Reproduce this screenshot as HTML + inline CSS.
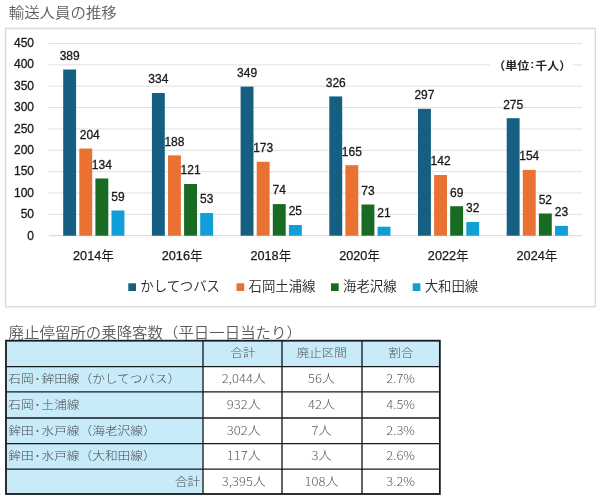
<!DOCTYPE html>
<html lang="ja"><head><meta charset="utf-8"><title>輸送人員の推移</title>
<style>html,body{margin:0;padding:0;background:#fff;}body{width:600px;height:499px;overflow:hidden;}svg{display:block;filter:blur(0.4px);}.ax{font-family:"Liberation Sans", "Noto Sans CJK JP", sans-serif;font-size:12px;fill:#1a1a1a;stroke:#1a1a1a;stroke-width:0.3px;}.xl{font-family:"Liberation Sans", "Noto Sans CJK JP", sans-serif;font-size:12.7px;fill:#1a1a1a;stroke:#1a1a1a;stroke-width:0.25px;}.nen{stroke:none;}.lg{font-family:"Liberation Sans", "Noto Sans CJK JP", sans-serif;font-size:13.4px;fill:#2a2a2a;font-weight:350;}.tt{font-family:"Liberation Sans", "Noto Sans CJK JP", sans-serif;font-size:15.45px;fill:#5c5c5c;font-weight:350;}.un{font-family:"Liberation Sans", "Noto Sans CJK JP", sans-serif;font-size:12px;font-weight:700;fill:#262626;}.tb{font-family:"Noto Sans CJK JP", "Liberation Sans", sans-serif;font-size:13px;fill:#565656;font-weight:300;}.tl{font-size:12.7px;fill:#4a4a4a;}.th{font-size:12.5px;}</style></head><body>
<svg width="600" height="499" viewBox="0 0 600 499">
<rect x="0" y="0" width="600" height="499" fill="#ffffff"/>
<text class="tt" transform="translate(8.7,17.8) scale(1,0.93)">輸送人員の推移</text>
<rect x="5.5" y="28.4" width="589.9" height="278.3" fill="#fff" stroke="#dbdbdb" stroke-width="1.4"/>
<line x1="48.75" y1="235.70" x2="582.00" y2="235.70" stroke="#d6d6d6" stroke-width="1"/>
<text class="ax" x="34" y="239.80" text-anchor="end">0</text>
<line x1="48.75" y1="214.34" x2="582.00" y2="214.34" stroke="#e0e0e0" stroke-width="1"/>
<text class="ax" x="34" y="218.36" text-anchor="end">50</text>
<line x1="48.75" y1="192.98" x2="582.00" y2="192.98" stroke="#e0e0e0" stroke-width="1"/>
<text class="ax" x="34" y="196.92" text-anchor="end">100</text>
<line x1="48.75" y1="171.62" x2="582.00" y2="171.62" stroke="#e0e0e0" stroke-width="1"/>
<text class="ax" x="34" y="175.48" text-anchor="end">150</text>
<line x1="48.75" y1="150.26" x2="582.00" y2="150.26" stroke="#e0e0e0" stroke-width="1"/>
<text class="ax" x="34" y="154.04" text-anchor="end">200</text>
<line x1="48.75" y1="128.90" x2="582.00" y2="128.90" stroke="#e0e0e0" stroke-width="1"/>
<text class="ax" x="34" y="132.60" text-anchor="end">250</text>
<line x1="48.75" y1="107.54" x2="582.00" y2="107.54" stroke="#e0e0e0" stroke-width="1"/>
<text class="ax" x="34" y="111.16" text-anchor="end">300</text>
<line x1="48.75" y1="86.18" x2="582.00" y2="86.18" stroke="#e0e0e0" stroke-width="1"/>
<text class="ax" x="34" y="89.72" text-anchor="end">350</text>
<line x1="48.75" y1="64.82" x2="582.00" y2="64.82" stroke="#e0e0e0" stroke-width="1"/>
<text class="ax" x="34" y="68.28" text-anchor="end">400</text>
<line x1="48.75" y1="43.46" x2="582.00" y2="43.46" stroke="#e0e0e0" stroke-width="1"/>
<text class="ax" x="34" y="46.84" text-anchor="end">450</text>
<rect x="490" y="56" width="83" height="17" fill="#fff"/>
<text class="un" transform="translate(532.2,69.6) scale(1,0.94)" text-anchor="middle">（単位<tspan dx="1" dy="-1.2">:</tspan><tspan dx="1" dy="1.2">千人）</tspan></text>
<rect x="63.20" y="69.52" width="12.90" height="166.18" fill="#156082"/>
<text class="ax" x="69.65" y="59.92" text-anchor="middle">389</text>
<rect x="79.30" y="148.55" width="12.90" height="87.15" fill="#E97132"/>
<text class="ax" x="89.75" y="138.95" text-anchor="middle">204</text>
<rect x="95.40" y="178.46" width="12.90" height="57.24" fill="#196B24"/>
<text class="ax" x="101.85" y="168.86" text-anchor="middle">134</text>
<rect x="111.50" y="210.50" width="12.90" height="25.20" fill="#0F9ED5"/>
<text class="ax" x="117.95" y="200.90" text-anchor="middle">59</text>
<text class="xl" x="93.50" y="260.2" text-anchor="middle">2014<tspan class="nen">年</tspan></text>
<rect x="151.90" y="93.02" width="12.90" height="142.68" fill="#156082"/>
<text class="ax" x="158.35" y="83.42" text-anchor="middle">334</text>
<rect x="168.00" y="155.39" width="12.90" height="80.31" fill="#E97132"/>
<text class="ax" x="174.45" y="145.79" text-anchor="middle">188</text>
<rect x="184.10" y="184.01" width="12.90" height="51.69" fill="#196B24"/>
<text class="ax" x="190.55" y="174.41" text-anchor="middle">121</text>
<rect x="200.20" y="213.06" width="12.90" height="22.64" fill="#0F9ED5"/>
<text class="ax" x="206.65" y="203.46" text-anchor="middle">53</text>
<text class="xl" x="182.20" y="260.2" text-anchor="middle">2016<tspan class="nen">年</tspan></text>
<rect x="240.60" y="86.61" width="12.90" height="149.09" fill="#156082"/>
<text class="ax" x="247.05" y="77.01" text-anchor="middle">349</text>
<rect x="256.70" y="161.79" width="12.90" height="73.91" fill="#E97132"/>
<text class="ax" x="263.15" y="152.19" text-anchor="middle">173</text>
<rect x="272.80" y="204.09" width="12.90" height="31.61" fill="#196B24"/>
<text class="ax" x="279.25" y="194.49" text-anchor="middle">74</text>
<rect x="288.90" y="225.02" width="12.90" height="10.68" fill="#0F9ED5"/>
<text class="ax" x="295.35" y="215.42" text-anchor="middle">25</text>
<text class="xl" x="270.90" y="260.2" text-anchor="middle">2018<tspan class="nen">年</tspan></text>
<rect x="329.30" y="96.43" width="12.90" height="139.27" fill="#156082"/>
<text class="ax" x="335.75" y="86.83" text-anchor="middle">326</text>
<rect x="345.40" y="165.21" width="12.90" height="70.49" fill="#E97132"/>
<text class="ax" x="351.85" y="155.61" text-anchor="middle">165</text>
<rect x="361.50" y="204.51" width="12.90" height="31.19" fill="#196B24"/>
<text class="ax" x="367.95" y="194.91" text-anchor="middle">73</text>
<rect x="377.60" y="226.73" width="12.90" height="8.97" fill="#0F9ED5"/>
<text class="ax" x="384.05" y="217.13" text-anchor="middle">21</text>
<text class="xl" x="359.60" y="260.2" text-anchor="middle">2020<tspan class="nen">年</tspan></text>
<rect x="418.00" y="108.82" width="12.90" height="126.88" fill="#156082"/>
<text class="ax" x="424.45" y="99.22" text-anchor="middle">297</text>
<rect x="434.10" y="175.04" width="12.90" height="60.66" fill="#E97132"/>
<text class="ax" x="440.55" y="165.44" text-anchor="middle">142</text>
<rect x="450.20" y="206.22" width="12.90" height="29.48" fill="#196B24"/>
<text class="ax" x="456.65" y="196.62" text-anchor="middle">69</text>
<rect x="466.30" y="222.03" width="12.90" height="13.67" fill="#0F9ED5"/>
<text class="ax" x="472.75" y="212.43" text-anchor="middle">32</text>
<text class="xl" x="448.30" y="260.2" text-anchor="middle">2022<tspan class="nen">年</tspan></text>
<rect x="506.70" y="118.22" width="12.90" height="117.48" fill="#156082"/>
<text class="ax" x="513.15" y="108.62" text-anchor="middle">275</text>
<rect x="522.80" y="169.91" width="12.90" height="65.79" fill="#E97132"/>
<text class="ax" x="529.25" y="160.31" text-anchor="middle">154</text>
<rect x="538.90" y="213.49" width="12.90" height="22.21" fill="#196B24"/>
<text class="ax" x="545.35" y="203.89" text-anchor="middle">52</text>
<rect x="555.00" y="225.87" width="12.90" height="9.83" fill="#0F9ED5"/>
<text class="ax" x="561.45" y="216.27" text-anchor="middle">23</text>
<text class="xl" x="537.00" y="260.2" text-anchor="middle">2024<tspan class="nen">年</tspan></text>
<rect x="128.30" y="283.3" width="7.7" height="7.7" fill="#156082"/>
<text class="lg" x="140.30" y="291.0">かしてつバス</text>
<rect x="236.50" y="283.3" width="7.7" height="7.7" fill="#E97132"/>
<text class="lg" x="248.50" y="291.0">石岡土浦線</text>
<rect x="331.00" y="283.3" width="7.7" height="7.7" fill="#196B24"/>
<text class="lg" x="343.00" y="291.0">海老沢線</text>
<rect x="412.70" y="283.3" width="7.7" height="7.7" fill="#0F9ED5"/>
<text class="lg" x="424.70" y="291.0">大和田線</text>
<text class="tt" transform="translate(8.6,337.6) scale(1,0.93)">廃止停留所の乗降客数（平日一日当たり）</text>
<rect x="6.00" y="340.70" width="433.85" height="153.30" fill="#fff"/>
<rect x="6.00" y="340.70" width="433.85" height="25.85" fill="#c8ebfa"/>
<rect x="6.00" y="340.70" width="197.00" height="153.30" fill="#c8ebfa"/>
<line x1="6.00" y1="366.55" x2="439.85" y2="366.55" stroke="#171b1e" stroke-width="1.35"/>
<line x1="6.00" y1="391.90" x2="439.85" y2="391.90" stroke="#171b1e" stroke-width="1.35"/>
<line x1="6.00" y1="418.00" x2="439.85" y2="418.00" stroke="#171b1e" stroke-width="1.35"/>
<line x1="6.00" y1="443.65" x2="439.85" y2="443.65" stroke="#171b1e" stroke-width="1.35"/>
<line x1="6.00" y1="469.15" x2="439.85" y2="469.15" stroke="#171b1e" stroke-width="1.35"/>
<line x1="203.00" y1="340.70" x2="203.00" y2="494.00" stroke="#171b1e" stroke-width="1.35"/>
<line x1="282.00" y1="340.70" x2="282.00" y2="494.00" stroke="#171b1e" stroke-width="1.35"/>
<line x1="362.00" y1="340.70" x2="362.00" y2="494.00" stroke="#171b1e" stroke-width="1.35"/>
<rect x="6.00" y="340.70" width="433.85" height="153.30" fill="none" stroke="#171b1e" stroke-width="1.8"/>
<text class="tb th" transform="translate(243.00,357.43) scale(1,0.93)" text-anchor="middle">合計</text>
<text class="tb th" transform="translate(321.70,357.43) scale(1,0.93)" text-anchor="middle">廃止区間</text>
<text class="tb th" transform="translate(401.00,357.43) scale(1,0.93)" text-anchor="middle">割合</text>
<text class="tb tl" transform="translate(8.20,383.12) scale(1,0.93)">石岡<tspan dx="0.8">･</tspan><tspan dx="0.8">鉾田線（かしてつバス）</tspan></text>
<text class="tb" transform="translate(243.80,383.23) scale(1,0.93)" text-anchor="middle">2,044人</text>
<text class="tb" transform="translate(321.50,383.23) scale(1,0.93)" text-anchor="middle">56人</text>
<text class="tb" transform="translate(400.60,383.23) scale(1,0.93)" text-anchor="middle">2.7%</text>
<text class="tb tl" transform="translate(8.20,408.85) scale(1,0.93)">石岡<tspan dx="0.8">･</tspan><tspan dx="0.8">土浦線</tspan></text>
<text class="tb" transform="translate(243.80,408.95) scale(1,0.93)" text-anchor="middle">932人</text>
<text class="tb" transform="translate(321.50,408.95) scale(1,0.93)" text-anchor="middle">42人</text>
<text class="tb" transform="translate(400.60,408.95) scale(1,0.93)" text-anchor="middle">4.5%</text>
<text class="tb tl" transform="translate(8.20,434.72) scale(1,0.93)">鉾田<tspan dx="0.8">･</tspan><tspan dx="0.8">水戸線（海老沢線）</tspan></text>
<text class="tb" transform="translate(243.80,434.82) scale(1,0.93)" text-anchor="middle">302人</text>
<text class="tb" transform="translate(321.50,434.82) scale(1,0.93)" text-anchor="middle">7人</text>
<text class="tb" transform="translate(400.60,434.82) scale(1,0.93)" text-anchor="middle">2.3%</text>
<text class="tb tl" transform="translate(8.20,460.30) scale(1,0.93)">鉾田<tspan dx="0.8">･</tspan><tspan dx="0.8">水戸線（大和田線）</tspan></text>
<text class="tb" transform="translate(243.80,460.40) scale(1,0.93)" text-anchor="middle">117人</text>
<text class="tb" transform="translate(321.50,460.40) scale(1,0.93)" text-anchor="middle">3人</text>
<text class="tb" transform="translate(400.60,460.40) scale(1,0.93)" text-anchor="middle">2.6%</text>
<text class="tb tl" transform="translate(200.30,485.77) scale(1,0.93)" text-anchor="end">合計</text>
<text class="tb" transform="translate(243.80,485.57) scale(1,0.93)" text-anchor="middle">3,395人</text>
<text class="tb" transform="translate(321.50,485.57) scale(1,0.93)" text-anchor="middle">108人</text>
<text class="tb" transform="translate(400.60,485.57) scale(1,0.93)" text-anchor="middle">3.2%</text>
</svg></body></html>
